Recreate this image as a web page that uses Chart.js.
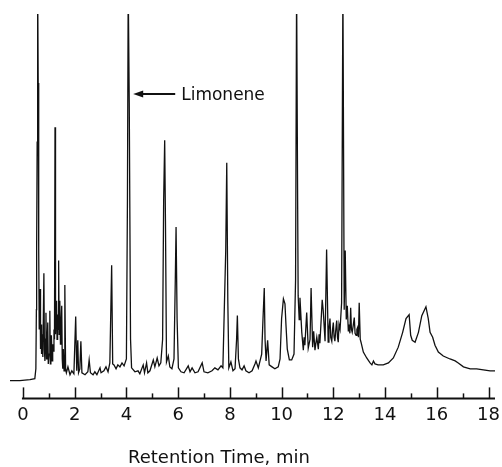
<!DOCTYPE html>
<html>
<head>
<meta charset="utf-8">
<script src="https://cdn.jsdelivr.net/npm/chart.js@4"></script>
<style>
  body { margin: 0; background: #fff; }
  canvas { display: block; }
</style>
</head>
<body>
<canvas id="chromatogram" width="502" height="467"></canvas>
<script>
// retention time (min), detector response (arb. units)
let injectionTrace = [
    [-0.50, 18], [-0.12, 18], [0.27, 19], [0.46, 20], [0.50, 30], [0.52, 90],
    [0.53, 150], [0.55, 260], [0.57, 420], [0.59, 320], [0.61, 150], [0.63, 70],
    [0.66, 111], [0.68, 50], [0.70, 75], [0.72, 45], [0.74, 65], [0.77, 42],
    [0.81, 127], [0.83, 50], [0.85, 38], [0.87, 60], [0.89, 87], [0.91, 40],
    [0.93, 50], [0.96, 77], [0.98, 35], [1.01, 45], [1.04, 89], [1.06, 35],
    [1.08, 50], [1.10, 64], [1.13, 38], [1.15, 55], [1.18, 48], [1.20, 70],
    [1.22, 60], [1.24, 275], [1.26, 65], [1.28, 90], [1.30, 99], [1.32, 60],
    [1.34, 85], [1.36, 70], [1.38, 140], [1.40, 65], [1.42, 88], [1.43, 99],
    [1.45, 55], [1.47, 70], [1.50, 94], [1.52, 40], [1.54, 30], [1.56, 50],
    [1.59, 28], [1.62, 115], [1.65, 30], [1.68, 26], [1.74, 32], [1.82, 24]
];

let earlyTrace = [
    [1.89, 28], [1.97, 25], [2.04, 83], [2.08, 28], [2.12, 59], [2.15, 26],
    [2.20, 30], [2.24, 58], [2.28, 26], [2.40, 24], [2.51, 27], [2.56, 39],
    [2.61, 26], [2.71, 24], [2.78, 27], [2.86, 24], [2.98, 31], [3.02, 26],
    [3.13, 28], [3.21, 32], [3.29, 27], [3.36, 36], [3.43, 135], [3.47, 35],
    [3.52, 34], [3.60, 30], [3.67, 34], [3.75, 32], [3.83, 36], [3.91, 33],
    [4.00, 40], [4.04, 200], [4.07, 420], [4.11, 300], [4.16, 60], [4.20, 31],
    [4.33, 27], [4.45, 28], [4.52, 25], [4.65, 34], [4.70, 26], [4.78, 36],
    [4.83, 26], [4.91, 28], [5.04, 39], [5.10, 32], [5.19, 41], [5.26, 33],
    [5.33, 36], [5.40, 60], [5.44, 200], [5.48, 262], [5.51, 180], [5.55, 37],
    [5.62, 43], [5.68, 32], [5.76, 30], [5.84, 40], [5.89, 120], [5.92, 174],
    [5.96, 80], [6.01, 31]
];

let midTrace = [
    [6.11, 27], [6.23, 26], [6.39, 33], [6.46, 27], [6.54, 31], [6.65, 26],
    [6.77, 27], [6.93, 36], [7.00, 27], [7.15, 26], [7.31, 28], [7.42, 31],
    [7.54, 29], [7.66, 33], [7.73, 31], [7.84, 150], [7.88, 239], [7.92, 100],
    [7.96, 31], [8.04, 37], [8.12, 28], [8.20, 30], [8.26, 60], [8.29, 84],
    [8.33, 40], [8.39, 31], [8.47, 29], [8.55, 33], [8.62, 28], [8.74, 26],
    [8.86, 28], [8.97, 35], [9.01, 38], [9.10, 31], [9.23, 45], [9.28, 80],
    [9.33, 112], [9.36, 60], [9.40, 38], [9.46, 59], [9.52, 34], [9.63, 32],
    [9.74, 30], [9.87, 32], [9.94, 40]
];

let lateTrace = [
    [10.00, 81], [10.07, 101], [10.13, 96], [10.17, 74], [10.22, 50], [10.30, 39],
    [10.39, 39], [10.48, 45], [10.54, 120], [10.58, 420], [10.62, 200], [10.64, 104],
    [10.68, 80], [10.71, 102], [10.78, 67], [10.84, 49], [10.87, 62], [10.90, 54],
    [10.97, 87], [11.03, 51], [11.10, 60], [11.14, 112], [11.20, 52], [11.24, 68],
    [11.29, 49], [11.32, 55], [11.36, 62], [11.42, 50], [11.45, 65], [11.48, 56],
    [11.53, 80], [11.57, 100], [11.61, 89], [11.68, 58], [11.74, 151], [11.80, 57],
    [11.83, 70], [11.87, 81], [11.90, 62], [11.94, 58], [11.97, 70], [12.00, 77],
    [12.03, 62], [12.06, 58], [12.09, 68], [12.13, 79], [12.16, 62], [12.19, 57],
    [12.22, 75], [12.26, 70], [12.32, 97], [12.37, 420], [12.42, 90], [12.46, 150],
    [12.50, 80], [12.54, 94], [12.58, 68], [12.61, 75], [12.64, 66], [12.67, 92],
    [12.70, 70], [12.73, 67], [12.77, 74], [12.81, 82], [12.84, 66], [12.88, 64],
    [12.91, 70], [12.94, 72], [12.97, 62], [13.00, 97], [13.04, 60], [13.07, 57],
    [13.16, 47], [13.29, 41], [13.42, 36], [13.49, 34], [13.55, 38], [13.61, 35],
    [13.73, 34]
];

let humpTrace = [
    [13.93, 34], [14.13, 36], [14.32, 41], [14.51, 52], [14.68, 67], [14.81, 81],
    [14.93, 85], [14.99, 64], [15.05, 59], [15.16, 57], [15.29, 67], [15.42, 84],
    [15.58, 93], [15.67, 81], [15.74, 67], [15.84, 62], [15.93, 54], [16.06, 47],
    [16.25, 43], [16.51, 40], [16.71, 38], [16.83, 36], [17.03, 32], [17.29, 30],
    [17.54, 30], [17.80, 29], [18.06, 28], [18.25, 28]
];

let tickMinutes = [0, 2, 4, 6, 8, 10, 12, 14, 16, 18];
let axisTitle = "Retention Time, min";
let limoneneLabel = "Limonene";
let limoneneTime = 4.07;

let trace = [].concat(injectionTrace, earlyTrace, midTrace, lateTrace, humpTrace)
    .map(p => ({ x: p[0], y: p[1] }));

// axis line with upward ticks, axis title and the limonene arrow
const chromAxis = {
    id: "chromAxis",
    afterDraw(chart) {
        let ctx = chart.ctx;
        let xs = chart.scales.x;
        let area = chart.chartArea;
        let y0 = area.bottom;

        ctx.save();
        ctx.strokeStyle = "#111";
        ctx.lineWidth = 2;
        ctx.beginPath();
        ctx.moveTo(xs.getPixelForValue(0) - 1, y0);
        ctx.lineTo(area.right, y0);
        ctx.stroke();

        ctx.lineWidth = 1.5;
        for (let m = 0; m <= 18; m++) {
            let px = Math.round(xs.getPixelForValue(m)) + 0.5;
            let len = m % 2 === 0 ? 11 : 5;
            ctx.beginPath();
            ctx.moveTo(px, y0);
            ctx.lineTo(px, y0 - len);
            ctx.stroke();
        }

        ctx.fillStyle = "#111";
        ctx.font = "18px 'DejaVu Sans'";
        ctx.textAlign = "center";
        ctx.textBaseline = "alphabetic";
        ctx.fillText(axisTitle, 219, 463);

        // arrow pointing at limonene
        let ax = xs.getPixelForValue(limoneneTime) + 5;
        let ay = 94;
        ctx.lineWidth = 2;
        ctx.beginPath();
        ctx.moveTo(ax + 6, ay);
        ctx.lineTo(ax + 42, ay);
        ctx.stroke();
        ctx.beginPath();
        ctx.moveTo(ax, ay);
        ctx.lineTo(ax + 10, ay - 3.5);
        ctx.lineTo(ax + 10, ay + 3.5);
        ctx.closePath();
        ctx.fill();

        ctx.font = "17px 'DejaVu Sans'";
        ctx.textAlign = "left";
        ctx.fillText(limoneneLabel, ax + 48, 100);
        ctx.restore();
    }
};

new Chart(document.getElementById("chromatogram"), {
    type: "line",
    data: {
        datasets: [{
            data: trace,
            borderColor: "#111",
            borderWidth: 1.3,
            pointRadius: 0,
            tension: 0,
            fill: false
        }]
    },
    options: {
        responsive: false,
        animation: false,
        events: [],
        layout: { padding: { top: 14, left: 10, right: 7, bottom: 35 } },
        plugins: {
            legend: { display: false },
            tooltip: { enabled: false }
        },
        scales: {
            x: {
                type: "linear",
                min: -0.5,
                max: 18.25,
                grid: { display: false, drawTicks: false },
                border: { display: false },
                ticks: {
                    padding: 6,
                    color: "#111",
                    font: { family: "'DejaVu Sans'", size: 18 },
                    autoSkip: false,
                    maxRotation: 0
                },
                afterBuildTicks(scale) {
                    scale.ticks = tickMinutes.map(v => ({ value: v }));
                },
                afterFit(scale) {
                    scale.paddingLeft = 0;
                    scale.paddingRight = 0;
                }
            },
            y: {
                display: false,
                min: 0,
                max: 390
            }
        }
    },
    plugins: [chromAxis]
});
</script>
</body>
</html>
